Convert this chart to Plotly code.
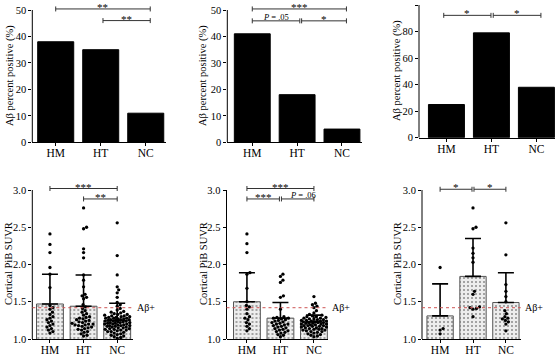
import plotly.graph_objects as go

# ---------------- data ----------------
CATS = ["HM", "HT", "NC"]

PCT_A = [38, 35, 11]
PCT_B = [41, 18, 5]
PCT_C = [25, 79, 38]

SUVR_A_MEAN = [1.47, 1.44, 1.25]
SUVR_A_SD = [0.40, 0.42, 0.23]
SUVR_B_MEAN = [1.50, 1.28, 1.23]
SUVR_B_SD = [0.39, 0.21, 0.09]
SUVR_C_MEAN = [1.31, 1.84, 1.49]
SUVR_C_SD = [0.43, 0.51, 0.40]

A_HM = [2.41, 2.27, 2.16, 1.96, 1.87, 1.69, 1.45, 1.42, 1.40, 1.36, 1.33, 1.30, 1.28, 1.26,
        1.24, 1.22, 1.20, 1.18, 1.16, 1.14, 1.12, 1.10, 1.08]
A_HT = [2.76, 2.50, 2.48, 2.21, 2.16, 2.09, 1.86, 1.79, 1.70, 1.60, 1.58, 1.56, 1.54, 1.46,
        1.43, 1.41, 1.38, 1.36, 1.34, 1.32, 1.30, 1.29, 1.28, 1.27, 1.26, 1.25, 1.24, 1.23,
        1.22, 1.21, 1.20, 1.20, 1.19, 1.19, 1.18, 1.17, 1.16, 1.15, 1.14, 1.13, 1.12, 1.10,
        1.09, 1.07, 1.05, 1.04]
A_NC = [2.56, 2.12, 1.86, 1.70, 1.66, 1.62, 1.56, 1.49, 1.46, 1.44, 1.41, 1.39, 1.37, 1.36,
        1.35, 1.34, 1.33, 1.33, 1.32, 1.31, 1.31, 1.30, 1.30, 1.29, 1.29, 1.28, 1.28, 1.28,
        1.27, 1.27, 1.26, 1.26, 1.26, 1.25, 1.25, 1.24, 1.24, 1.24, 1.23, 1.23, 1.22, 1.22,
        1.22, 1.21, 1.21, 1.20, 1.20, 1.20, 1.19, 1.19, 1.18, 1.18, 1.18, 1.17, 1.17, 1.16,
        1.16, 1.15, 1.15, 1.14, 1.14, 1.13, 1.13, 1.12, 1.12, 1.11, 1.10, 1.10, 1.09, 1.08,
        1.07, 1.06, 1.05, 1.04, 1.03, 1.02, 1.01]

B_HM = [2.41, 2.28, 2.16, 1.89, 1.87, 1.68, 1.50, 1.45, 1.43, 1.40, 1.34, 1.30, 1.28, 1.26,
        1.22, 1.20, 1.17, 1.14, 1.11]
B_HT = [1.87, 1.84, 1.79, 1.76, 1.58, 1.56, 1.40, 1.30, 1.29, 1.28, 1.28, 1.27, 1.26, 1.25,
        1.24, 1.23, 1.22, 1.21, 1.20, 1.20, 1.19, 1.18, 1.17, 1.16, 1.15, 1.14, 1.13, 1.12,
        1.11, 1.10, 1.09, 1.08, 1.06, 1.05, 1.03]
B_NC = [1.57, 1.48, 1.46, 1.44, 1.42, 1.38, 1.35, 1.33, 1.32, 1.31, 1.30, 1.30, 1.29, 1.28,
        1.28, 1.27, 1.27, 1.26, 1.26, 1.25, 1.25, 1.24, 1.24, 1.24, 1.23, 1.23, 1.22, 1.22,
        1.22, 1.21, 1.21, 1.20, 1.20, 1.20, 1.19, 1.19, 1.18, 1.18, 1.18, 1.17, 1.17, 1.16,
        1.16, 1.15, 1.15, 1.14, 1.14, 1.13, 1.13, 1.12, 1.12, 1.11, 1.10, 1.10, 1.09, 1.08,
        1.07, 1.06, 1.05, 1.04, 1.03]

C_HM = [1.96, 1.14, 1.12, 1.07]
C_HT = [2.76, 2.50, 2.48, 2.22, 2.15, 2.09, 2.03, 1.64, 1.60, 1.43, 1.42, 1.41, 1.40, 1.30]
C_NC = [2.56, 2.13, 1.73, 1.64, 1.57, 1.50, 1.38, 1.34, 1.30, 1.28, 1.27, 1.25, 1.23, 1.20, 1.11]

AB_CUTOFF = 1.42

# ---------------- layout geometry (pixels) ----------------
W, H = 558, 355
SERIF = "Liberation Serif"

# brackets: (x start, x end, y level, label, label x position or None for centre)
panels = [
    dict(kind="pct", vals=PCT_A, xl=32.3, xr=166.0, xrng=(-0.52, 2.45), yb=142.3, yt=10.0,
         ylo=0, yhi=50, top=0, ticks=[0, 10, 20, 30, 40, 50], title_px=(10, 76),
         brackets=[(0, 2.1, 50.4, "**", None), (1.05, 2.1, 46.0, "**", None)]),
    dict(kind="pct", vals=PCT_B, xl=227.3, xr=361.7, xrng=(-0.557, 2.44), yb=142.3, yt=10.0,
         ylo=0, yhi=50, top=0, ticks=[0, 10, 20, 30, 40, 50], title_px=(203, 76),
         brackets=[(0, 2.1, 50.4, "***", None), (0, 1.06, 45.9, "<i>P</i> = .05", None),
                   (1.1, 2.1, 45.9, "*", None)]),
    dict(kind="pct", vals=PCT_C, xl=419.0, xr=555.3, xrng=(-0.61, 2.42), yb=137.7, yt=5.0,
         ylo=0, yhi=100, top=0, ticks=[0, 20, 40, 60, 80, 100], title_px=(397, 71),
         brackets=[(-0.06, 0.99, 92.2, "*", None), (1.04, 2.1, 92.2, "*", None)]),
    dict(kind="suvr", mean=SUVR_A_MEAN, sd=SUVR_A_SD, pts=[A_HM, A_HT, A_NC],
         xl=32.3, xr=133.0, xrng=(-0.525, 2.47), yb=339.0, yt=190.0, ylo=1.0, yhi=3.0, top=176,
         ticks=[1.0, 1.5, 2.0, 2.5, 3.0], title_px=(8, 264),
         brackets=[(0, 2, 3.02, "***", None), (1, 2, 2.88, "**", None)]),
    dict(kind="suvr", mean=SUVR_B_MEAN, sd=SUVR_B_SD, pts=[B_HM, B_HT, B_NC],
         xl=226.5, xr=328.0, xrng=(-0.61, 2.42), yb=339.0, yt=190.0, ylo=1.0, yhi=3.0, top=176,
         ticks=[1.0, 1.5, 2.0, 2.5, 3.0], title_px=(203, 264),
         brackets=[(0, 2, 3.02, "***", None), (0, 0.97, 2.88, "***", None),
                   (1.03, 2, 2.88, "<i>P</i> = .06", 1.66)]),
    dict(kind="suvr", mean=SUVR_C_MEAN, sd=SUVR_C_SD, pts=[C_HM, C_HT, C_NC],
         xl=422.0, xr=520.7, xrng=(-0.55, 2.45), yb=339.0, yt=190.0, ylo=1.0, yhi=3.0, top=176,
         ticks=[1.0, 1.5, 2.0, 2.5, 3.0], title_px=(397, 264),
         brackets=[(0, 0.97, 3.01, "*", None), (1.03, 2, 3.01, "*", None)]),
]


def swarm(values, center, sx, sy, d=3.3, maxhalf=12.5):
    """Beeswarm offsets computed in pixel space."""
    placed = []
    xs = [0.0] * len(values)
    order = sorted(range(len(values)), key=lambda i: values[i])
    cands = [0.0]
    step = 0.5
    k = 1
    while k * step <= maxhalf:
        cands += [k * step, -k * step]
        k += 1
    for i in order:
        py = values[i] * sy
        best, bestd = None, -1
        for off in cands:
            md = min([((off - px) ** 2 + (py - qy) ** 2) ** 0.5 for px, qy in placed] or [99])
            if md >= d:
                best = off
                break
            if md > bestd:
                bestd, best = md, off
        placed.append((best, py))
        xs[i] = center + best / sx
    return xs


fig = go.Figure()
layout = dict(template="none", width=W, height=H, margin=dict(l=0, r=0, t=0, b=0, pad=0),
              paper_bgcolor="white", plot_bgcolor="white", showlegend=False,
              shapes=[], annotations=[])

for n, p in enumerate(panels, start=1):
    sfx = "" if n == 1 else str(n)
    xid, yid = "x" + sfx, "y" + sfx
    per_px = (p["yhi"] - p["ylo"]) / (p["yb"] - p["yt"])
    ytop = p["yhi"] + (p["yt"] - p["top"]) * per_px
    sy = 1.0 / per_px
    sx = (p["xr"] - p["xl"]) / (p["xrng"][1] - p["xrng"][0])

    layout["xaxis" + sfx] = dict(
        domain=[p["xl"] / W, p["xr"] / W], range=list(p["xrng"]), anchor=yid,
        tickvals=[0, 1, 2], ticktext=CATS, showline=True, linecolor="black", linewidth=1,
        ticks="outside", ticklen=3, tickcolor="black", showgrid=False, zeroline=False,
        automargin=False, ticklabelstandoff=-3,
        tickfont=dict(family=SERIF, size=11.5, color="black"), fixedrange=True)
    layout["yaxis" + sfx] = dict(
        domain=[1 - p["yb"] / H, 1 - p["top"] / H], range=[p["ylo"], ytop], anchor=xid,
        tickvals=p["ticks"], ticks="outside", ticklen=3, tickcolor="black", showline=False,
        showgrid=False, zeroline=False, automargin=False,
        tickformat=".1f" if p["kind"] == "suvr" else "d",
        tickfont=dict(family=SERIF, size=10.5, color="black"), fixedrange=True)

    # y axis line only up to the top tick
    layout["shapes"].append(dict(type="line", xref=xid + " domain", yref=yid, x0=0, x1=0,
                                 y0=p["ylo"], y1=p["yhi"], line=dict(color="black", width=1)))

    if p["kind"] == "pct":
        fig.add_trace(go.Bar(x=[0, 1, 2], y=p["vals"], width=0.8, xaxis=xid, yaxis=yid,
                             marker=dict(color="black", line=dict(color="black", width=1))))
        title = "Aβ percent positive (%)"
    else:
        fig.add_trace(go.Bar(
            x=[0, 1, 2], y=p["mean"], width=0.8, xaxis=xid, yaxis=yid,
            marker=dict(color="#ededed", line=dict(color="#555555", width=1),
                        pattern=dict(shape=".", fgcolor="#8a8a8a", bgcolor="#ededed",
                                     size=4, solidity=0.2)),
            error_y=dict(type="data", symmetric=False, array=p["sd"], arrayminus=[0, 0, 0],
                         color="black", thickness=1.6, width=8)))
        for gi, vals in enumerate(p["pts"]):
            xs = swarm(vals, gi, sx, sy)
            fig.add_trace(go.Scatter(x=xs, y=vals, mode="markers", xaxis=xid, yaxis=yid,
                                     marker=dict(size=3.3, color="black")))
        layout["shapes"].append(dict(type="line", xref=xid + " domain", yref=yid, x0=0, x1=1,
                                     y0=AB_CUTOFF, y1=AB_CUTOFF,
                                     line=dict(color="rgb(205,85,85)", width=1, dash="dot")))
        layout["annotations"].append(dict(text="Aβ+", xref=xid + " domain", x=1, xanchor="left",
                                          xshift=2, yref=yid, y=AB_CUTOFF, yanchor="middle",
                                          showarrow=False,
                                          font=dict(family=SERIF, size=10, color="black")))
        title = "Cortical PiB SUVR"

    # significance brackets
    cap = 2.5 / sy
    for (x0, x1, yv, lab, lx) in p["brackets"]:
        lc = dict(color="#333333", width=1)
        layout["shapes"].append(dict(type="line", xref=xid, yref=yid, x0=x0, x1=x1,
                                     y0=yv, y1=yv, line=lc))
        for xe in (x0, x1):
            layout["shapes"].append(dict(type="line", xref=xid, yref=yid, x0=xe, x1=xe,
                                         y0=yv - cap, y1=yv + cap, line=lc))
        is_p = lab.startswith("<i>")
        layout["annotations"].append(dict(
            text=lab, xref=xid, yref=yid, x=(x0 + x1) / 2 if lx is None else lx, y=yv,
            xanchor="center", yanchor="middle", yshift=3.5 if is_p else 2, showarrow=False,
            font=dict(family=SERIF, size=8.5 if is_p else 11, color="black")))

    tx, ty = p["title_px"]
    layout["annotations"].append(dict(text=title, xref="paper", yref="paper", x=tx / W,
                                      y=1 - ty / H, xanchor="center", yanchor="middle",
                                      textangle=-90, showarrow=False,
                                      font=dict(family=SERIF, size=10.5, color="black")))

fig.update_layout(**layout)
fig.write_html("out.html", config={"displayModeBar": False},
               post_script="document.body.style.margin='0';document.body.style.overflow='hidden';")
